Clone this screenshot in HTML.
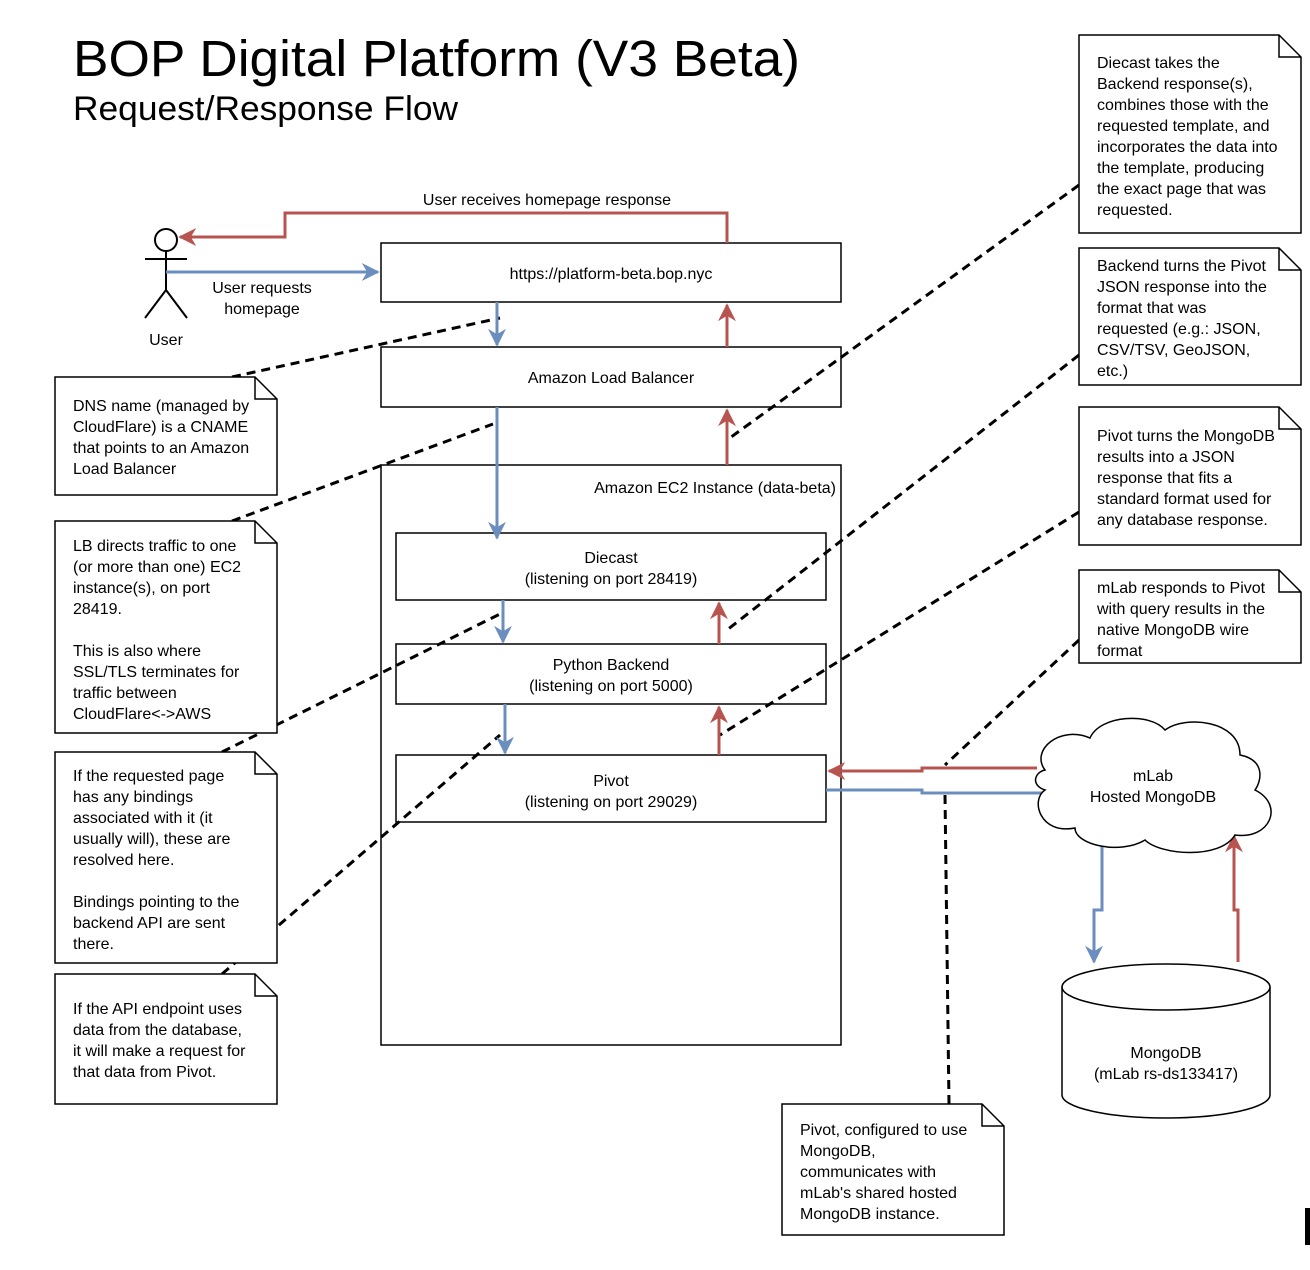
<!DOCTYPE html>
<html><head><meta charset="utf-8"><style>
html,body{margin:0;padding:0;background:#fff;}
svg{display:block;font-family:"Liberation Sans",sans-serif;}
</style></head><body>
<svg width="1310" height="1270" viewBox="0 0 1310 1270" xmlns="http://www.w3.org/2000/svg">
<defs>
<marker id="ar" viewBox="0 0 10 10" refX="9" refY="5" markerWidth="6" markerHeight="6" orient="auto"><path d="M0,0 L10,5 L0,10 L3,5 z" fill="#b85450"/></marker>
<marker id="ab" viewBox="0 0 10 10" refX="9" refY="5" markerWidth="6" markerHeight="6" orient="auto"><path d="M0,0 L10,5 L0,10 L3,5 z" fill="#6c8ebf"/></marker>
</defs>
<rect width="1310" height="1270" fill="#fff"/>
<text x="73" y="76" font-size="51" fill="#000" textLength="727" lengthAdjust="spacingAndGlyphs">BOP Digital Platform (V3 Beta)</text>
<text x="73" y="120" font-size="34" fill="#000" textLength="385" lengthAdjust="spacingAndGlyphs">Request/Response Flow</text>

<g stroke="#000" stroke-width="2" fill="none">
<circle cx="166" cy="240" r="11" fill="#fff"/>
<line x1="166" y1="251" x2="166" y2="290"/>
<line x1="145" y1="259" x2="187" y2="259"/>
<line x1="166" y1="290" x2="145" y2="318"/>
<line x1="166" y1="290" x2="187" y2="318"/>
</g>
<text x="166" y="345" font-size="16" text-anchor="middle">User</text>

<g stroke="#000" stroke-width="3" stroke-dasharray="9,6" fill="none">
<line x1="232" y1="377" x2="500" y2="318"/>
<line x1="232" y1="521" x2="493" y2="424"/>
<line x1="222" y1="752" x2="500" y2="614"/>
<line x1="222" y1="974" x2="500" y2="735"/>
<line x1="1079" y1="185" x2="727" y2="440"/>
<line x1="1079" y1="355" x2="727" y2="630"/>
<line x1="1079" y1="512" x2="720" y2="735"/>
<line x1="1079" y1="640" x2="945" y2="765"/>
<line x1="949" y1="1104" x2="945" y2="795"/>
</g>

<g fill="none" stroke="#000" stroke-width="1.5">
<rect x="381" y="243" width="460" height="59"/>
<rect x="381" y="347" width="460" height="60"/>
<rect x="381" y="465" width="460" height="580"/>
<rect x="396" y="533" width="430" height="67"/>
<rect x="396" y="644" width="430" height="60"/>
<rect x="396" y="755" width="430" height="67"/>
</g>
<g font-size="16" text-anchor="middle">
<text x="611" y="279">https://platform-beta.bop.nyc</text>
<text x="611" y="383">Amazon Load Balancer</text>
<text x="836" y="493" text-anchor="end">Amazon EC2 Instance (data-beta)</text>
<text x="611" y="563">Diecast</text><text x="611" y="584">(listening on port 28419)</text>
<text x="611" y="670">Python Backend</text><text x="611" y="691">(listening on port 5000)</text>
<text x="611" y="786">Pivot</text><text x="611" y="807">(listening on port 29029)</text>
<text x="547" y="205">User receives homepage response</text>
<text x="262" y="293">User requests</text><text x="262" y="314">homepage</text>
</g>

<g fill="none" stroke-width="3">
<path d="M727,243 V213 H285 V237 H180" stroke="#b85450" marker-end="url(#ar)"/>
<path d="M166,272 H378" stroke="#6c8ebf" marker-end="url(#ab)"/>
<path d="M497,302 V345" stroke="#6c8ebf" marker-end="url(#ab)"/>
<path d="M727,347 V305" stroke="#b85450" marker-end="url(#ar)"/>
<path d="M497,407 V538" stroke="#6c8ebf" marker-end="url(#ab)"/>
<path d="M727,465 V410" stroke="#b85450" marker-end="url(#ar)"/>
<path d="M503,600 V642" stroke="#6c8ebf" marker-end="url(#ab)"/>
<path d="M719,644 V603" stroke="#b85450" marker-end="url(#ar)"/>
<path d="M505,704 V753" stroke="#6c8ebf" marker-end="url(#ab)"/>
<path d="M719,755 V707" stroke="#b85450" marker-end="url(#ar)"/>
<path d="M1037,768 H922 V771 H829" stroke="#b85450" marker-end="url(#ar)"/>
<path d="M826,790 H922 V793 H1060" stroke="#6c8ebf" marker-end="url(#ab)"/>
<path d="M1102,830 V910 H1094 V962" stroke="#6c8ebf" marker-end="url(#ab)"/>
<path d="M1238,962 V910 H1234 V836" stroke="#b85450" marker-end="url(#ar)"/>
</g>

<path d="M1045,770 C1030,750 1060,725 1090,738 C1100,715 1150,712 1165,730 C1185,715 1240,720 1240,755 C1265,760 1262,780 1255,790 C1285,805 1270,840 1235,835 C1220,860 1160,855 1145,840 C1120,855 1075,845 1075,828 C1040,835 1030,800 1045,790 C1030,785 1035,772 1045,770 Z" fill="#fff" stroke="#000" stroke-width="1.5"/>
<text x="1153" y="781" font-size="16" text-anchor="middle">mLab</text>
<text x="1153" y="802" font-size="16" text-anchor="middle">Hosted MongoDB</text>

<path d="M1062,987 V1095 A104,23 0 0 0 1270,1095 V987" fill="#fff" stroke="#000" stroke-width="1.5"/>
<ellipse cx="1166" cy="987" rx="104" ry="23" fill="#fff" stroke="#000" stroke-width="1.5"/>
<text x="1166" y="1058" font-size="16" text-anchor="middle">MongoDB</text>
<text x="1166" y="1079" font-size="16" text-anchor="middle">(mLab rs-ds133417)</text>

<g fill="#fff" stroke="#000" stroke-width="1.5">
<path d="M55,377 H255 L277,399 V495 H55 Z M255,377 V399 H277"/>
<path d="M55,521 H255 L277,543 V733 H55 Z M255,521 V543 H277"/>
<path d="M55,752 H255 L277,774 V963 H55 Z M255,752 V774 H277"/>
<path d="M55,974 H255 L277,996 V1104 H55 Z M255,974 V996 H277"/>
<path d="M1079,35 H1279 L1301,57 V233 H1079 Z M1279,35 V57 H1301"/>
<path d="M1079,248 H1279 L1301,270 V385 H1079 Z M1279,248 V270 H1301"/>
<path d="M1079,407 H1279 L1301,429 V545 H1079 Z M1279,407 V429 H1301"/>
<path d="M1079,570 H1279 L1301,592 V663 H1079 Z M1279,570 V592 H1301"/>
<path d="M782,1104 H982 L1004,1126 V1235 H782 Z M982,1104 V1126 H1004"/>
</g>
<g font-size="16" fill="#000">
<text x="73" y="411"><tspan x="73">DNS name (managed by</tspan><tspan x="73" dy="21">CloudFlare) is a CNAME</tspan><tspan x="73" dy="21">that points to an Amazon</tspan><tspan x="73" dy="21">Load Balancer</tspan></text>
<text x="73" y="551"><tspan x="73">LB directs traffic to one</tspan><tspan x="73" dy="21">(or more than one) EC2</tspan><tspan x="73" dy="21">instance(s), on port</tspan><tspan x="73" dy="21">28419.</tspan><tspan x="73" dy="42">This is also where</tspan><tspan x="73" dy="21">SSL/TLS terminates for</tspan><tspan x="73" dy="21">traffic between</tspan><tspan x="73" dy="21">CloudFlare&lt;-&gt;AWS</tspan></text>
<text x="73" y="781"><tspan x="73">If the requested page</tspan><tspan x="73" dy="21">has any bindings</tspan><tspan x="73" dy="21">associated with it (it</tspan><tspan x="73" dy="21">usually will), these are</tspan><tspan x="73" dy="21">resolved here.</tspan><tspan x="73" dy="42">Bindings pointing to the</tspan><tspan x="73" dy="21">backend API are sent</tspan><tspan x="73" dy="21">there.</tspan></text>
<text x="73" y="1014"><tspan x="73">If the API endpoint uses</tspan><tspan x="73" dy="21">data from the database,</tspan><tspan x="73" dy="21">it will make a request for</tspan><tspan x="73" dy="21">that data from Pivot.</tspan></text>
<text x="1097" y="68"><tspan x="1097">Diecast takes the</tspan><tspan x="1097" dy="21">Backend response(s),</tspan><tspan x="1097" dy="21">combines those with the</tspan><tspan x="1097" dy="21">requested template, and</tspan><tspan x="1097" dy="21">incorporates the data into</tspan><tspan x="1097" dy="21">the template, producing</tspan><tspan x="1097" dy="21">the exact page that was</tspan><tspan x="1097" dy="21">requested.</tspan></text>
<text x="1097" y="271"><tspan x="1097">Backend turns the Pivot</tspan><tspan x="1097" dy="21">JSON response into the</tspan><tspan x="1097" dy="21">format that was</tspan><tspan x="1097" dy="21">requested (e.g.: JSON,</tspan><tspan x="1097" dy="21">CSV/TSV, GeoJSON,</tspan><tspan x="1097" dy="21">etc.)</tspan></text>
<text x="1097" y="441"><tspan x="1097">Pivot turns the MongoDB</tspan><tspan x="1097" dy="21">results into a JSON</tspan><tspan x="1097" dy="21">response that fits a</tspan><tspan x="1097" dy="21">standard format used for</tspan><tspan x="1097" dy="21">any database response.</tspan></text>
<text x="1097" y="593"><tspan x="1097">mLab responds to Pivot</tspan><tspan x="1097" dy="21">with query results in the</tspan><tspan x="1097" dy="21">native MongoDB wire</tspan><tspan x="1097" dy="21">format</tspan></text>
<text x="800" y="1135"><tspan x="800">Pivot, configured to use</tspan><tspan x="800" dy="21">MongoDB,</tspan><tspan x="800" dy="21">communicates with</tspan><tspan x="800" dy="21">mLab's shared hosted</tspan><tspan x="800" dy="21">MongoDB instance.</tspan></text>
</g>
<rect x="1305" y="1208" width="5" height="37" fill="#000"/>
</svg>
</body></html>
